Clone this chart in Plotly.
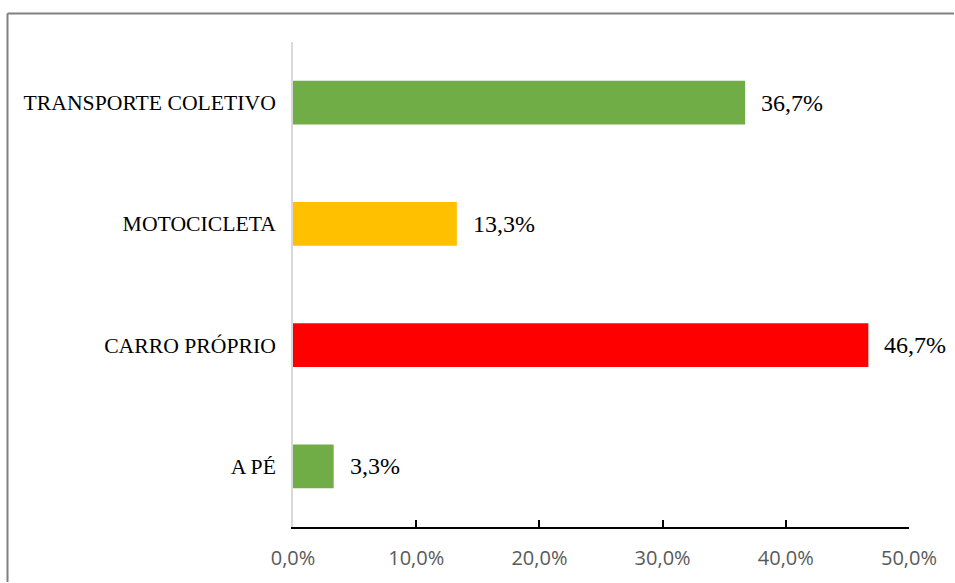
import plotly.graph_objects as go

categories = ["A PÉ", "CARRO PRÓPRIO", "MOTOCICLETA", "TRANSPORTE COLETIVO"]
values = [3.3, 46.7, 13.3, 36.7]
colors = ["#70AD47", "#FF0000", "#FFC000", "#70AD47"]
tick_vals = [0, 10, 20, 30, 40, 50]
tick_text = ["0,0%", "10,0%", "20,0%", "30,0%", "40,0%", "50,0%"]

W, H = 955, 583
L, R, T, B = 293, 46, 42, 56
pw, ph = W - L - R, H - T - B

fig = go.Figure()
fig.add_trace(go.Bar(
    y=categories, x=values, orientation="h",
    marker=dict(color=colors, line=dict(width=0)),
    width=0.36, hoverinfo="skip",
))

for c, v in zip(categories, values):
    fig.add_annotation(
        x=v, y=c, xref="x", yref="y",
        text=f"{v:.1f}".replace(".", ",") + "%",
        showarrow=False, xanchor="left", yanchor="middle", xshift=14,
        font=dict(family="Liberation Serif", size=24, color="#000000"),
    )

# outer border: only top and left edges are visible in the image
bx0 = (7.5 - L) / pw
bx1 = (W - 1 - L) / pw
by0 = (H - B - (H - 1)) / ph
by1 = (H - B - 13.5) / ph
border = dict(color="#808080", width=2)
fig.add_shape(type="line", xref="paper", yref="paper",
              x0=bx0, x1=bx1, y0=by1, y1=by1, line=border, layer="below")
fig.add_shape(type="line", xref="paper", yref="paper",
              x0=bx0, x1=bx0, y0=by0, y1=by1, line=border, layer="below")

fig.update_layout(
    width=W, height=H,
    margin=dict(l=L, r=R, t=T, b=B),
    paper_bgcolor="white", plot_bgcolor="white",
    showlegend=False,
    xaxis=dict(
        range=[0, 50], tickvals=tick_vals, ticktext=tick_text,
        showgrid=False, zeroline=False,
        showline=True, linecolor="#000000", linewidth=1.5,
        ticks="inside", ticklen=7, tickwidth=1.5, tickcolor="#000000",
        tickfont=dict(family="Open Sans", size=20, color="#595959"),
        ticklabelstandoff=12,
    ),
    yaxis=dict(
        categoryorder="array", categoryarray=categories,
        range=[-0.5, 3.5],
        showgrid=False, zeroline=False,
        showline=True, linecolor="#D9D9D9", linewidth=1.5,
        ticks="",
        tickfont=dict(family="Liberation Serif", size=21.7, color="#000000"),
        ticklabelstandoff=11,
    ),
)

fig.write_html(
    "out.html",
    config={"displayModeBar": False},
    post_script=(
        "document.documentElement.style.overflow='hidden';"
        "document.body.style.margin='0';document.body.style.overflow='hidden';"
    ),
)
